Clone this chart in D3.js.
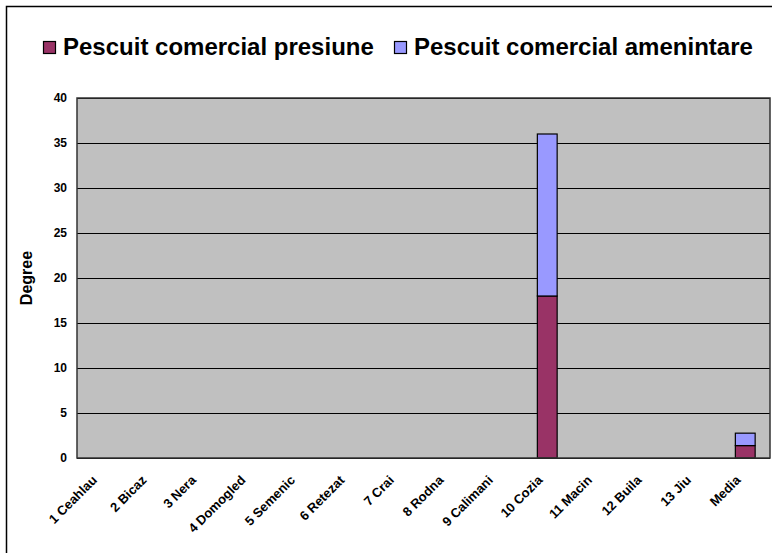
<!DOCTYPE html>
<html><head><meta charset="utf-8">
<script src="https://cdn.jsdelivr.net/npm/d3@7"></script>
<style>
body{margin:0;background:#fff;}
text{font-family:Arial,"Liberation Sans",sans-serif;font-weight:bold;}
</style></head>
<body><svg id="c" width="772" height="553"></svg>
<script>
const categories = ["1 Ceahlau","2 Bicaz","3 Nera","4 Domogled","5 Semenic","6 Retezat","7 Crai","8 Rodna","9 Calimani","10 Cozia","11 Macin","12 Buila","13 Jiu","Media"];
const presiune =   [0,0,0,0,0,0,0,0,0,18,0,0,0,1.38];
const amenintare = [0,0,0,0,0,0,0,0,0,18,0,0,0,1.38];
const seriesNames = ["Pescuit comercial presiune","Pescuit comercial amenintare"];
const colors = ["#993366","#9999FF"];
const yTicks = [0,5,10,15,20,25,30,35,40];

const svg = d3.select("#c");
// outer border
svg.append("rect").attr("x",6.5).attr("y",6.5).attr("width",780).attr("height",560)
  .attr("fill","none").attr("stroke","#000").attr("stroke-width",1.5);

const L=77,R=770,T=98,B=458;
const x = d3.scaleBand().domain(categories).range([L,R]).paddingInner(0.6).paddingOuter(0.3);
const y = d3.scaleLinear().domain([0,40]).range([B,T]);

svg.append("rect").attr("x",L).attr("y",T).attr("width",R-L).attr("height",B-T).attr("fill","#C0C0C0");

const g = svg.append("g");
g.selectAll("line.grid").data(yTicks).join("line").attr("class","grid")
  .attr("x1",L).attr("x2",R).attr("y1",d=>Math.round(y(d))+0.5).attr("y2",d=>Math.round(y(d))+0.5)
  .attr("stroke","#000").attr("stroke-width",1);

const stack = d3.stack().keys([0,1]).value((d,k)=>k===0?presiune[d]:amenintare[d]);
const stacked = stack(d3.range(categories.length));
stacked.forEach((s,k)=>{
  g.selectAll("rect.s"+k).data(s.map((d,i)=>({d,i})).filter(o=>o.d[1]-o.d[0]>0)).join("rect")
    .attr("x",o=>x(categories[o.i])).attr("width",x.bandwidth())
    .attr("y",o=>y(o.d[1])).attr("height",o=>y(o.d[0])-y(o.d[1]))
    .attr("fill",colors[k]).attr("stroke","#000").attr("stroke-width",1.2);
});

// plot border
svg.append("rect").attr("x",L).attr("y",T).attr("width",R-L).attr("height",B-T)
  .attr("fill","none").attr("stroke","#333").attr("stroke-width",1.5);

// y axis
const yAxis = d3.axisLeft(y).tickValues(yTicks).tickSize(0).tickPadding(10);
const ya = svg.append("g").attr("transform",`translate(${L},0)`).call(yAxis);
ya.select(".domain").remove();
ya.selectAll("text").attr("font-size",12).attr("font-weight","bold").attr("font-family","Arial, 'Liberation Sans', sans-serif").attr("fill","#000");

// x axis labels
const xAxis = d3.axisBottom(x).tickSize(0).tickPadding(0);
const xa = svg.append("g").attr("transform",`translate(0,${B})`).call(xAxis);
xa.select(".domain").remove();
xa.selectAll("text").attr("font-size",13).attr("font-weight","bold").attr("fill","#000")
  .attr("font-family","Arial, 'Liberation Sans', sans-serif")
  .attr("text-anchor","end").attr("dy",null).attr("y",0)
  .attr("transform","translate(-4,23) rotate(-45)");

// y title
svg.append("text").attr("transform","translate(32,278) rotate(-90)")
  .attr("text-anchor","middle").attr("font-size",16).text("Degree");

// legend
const leg = [{x:43,tx:63},{x:394,tx:414}];
seriesNames.forEach((n,i)=>{
  svg.append("rect").attr("x",leg[i].x+0.5).attr("y",41.5).attr("width",12).attr("height",12)
    .attr("fill",colors[i]).attr("stroke","#000").attr("stroke-width",1.2);
  svg.append("text").attr("x",leg[i].tx).attr("y",55).attr("font-size",24).text(n);
});
</script></body></html>
